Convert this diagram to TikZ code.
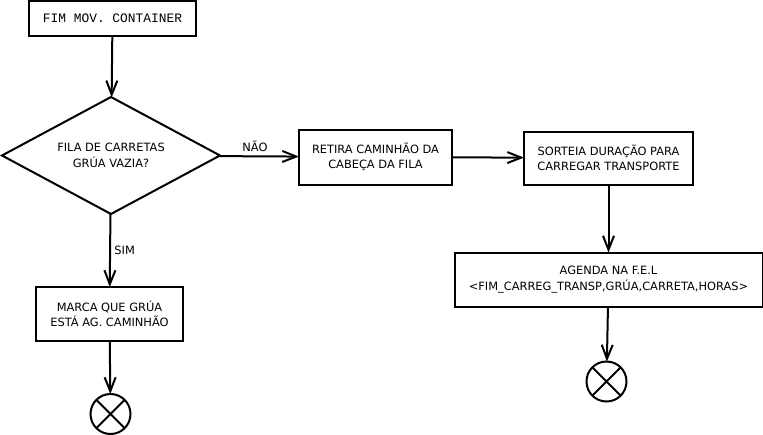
\documentclass[tikz,border=0pt]{standalone}
\usepackage{fontspec}
\setmainfont{DejaVu Sans}
\newfontfamily\monofont{Liberation Mono}
\usetikzlibrary{positioning,shapes.geometric,arrows.meta}

\begin{document}
\begin{tikzpicture}[x=1pt,y=-1pt,->,>={Straight Barb[length=14pt,width=11pt]},auto,line width=2pt,
    box node/.style={rectangle,draw,align=center,inner sep=0pt,outer sep=0pt,font=\fontsize{11.4}{15.5}\selectfont},
    end node/.style={circle,draw,minimum size=40pt,inner sep=0pt,outer sep=0pt}]

            \useasboundingbox (0,0) rectangle (763,434);

            \node[box node, minimum width=167pt, minimum height=35pt, font=\monofont\fontsize{12.9}{15}\selectfont] (1) at (112.5,18.5) {FIM MOV. CONTAINER};
            \node[box node, diamond, aspect=1.86, minimum width=218pt, minimum height=117pt] (2) [below=61pt of 1, xshift=-1.5pt] {FILA DE CARRETAS\\GRÚA VAZIA?};
            \node[box node, minimum width=153pt, minimum height=55pt] (3) [right=79pt of 2, yshift=-1.5pt] {RETIRA CAMINHÃO DA\\CABEÇA DA FILA};
            \node[box node, minimum width=169pt, minimum height=53pt] (4) [right=72pt of 3, yshift=-1pt] {SORTEIA DURAÇÃO PARA\\CARREGAR TRANSPORTE};
            \node[box node, minimum width=308pt, minimum height=54pt] (5) [below=68pt of 4] {AGENDA NA F.E.L\\<FIM\_CARREG\_TRANSP,GRÚA,CARRETA,HORAS>};
            \node[end node] (6) [below=55pt of 5, xshift=-2pt] {};
            \node[box node, minimum width=147pt, minimum height=54pt] (7) [below=73pt of 2, xshift=-1.5pt] {MARCA QUE GRÚA\\ESTÁ AG. CAMINHÃO};
            \node[end node] (8) [below=53pt of 7, xshift=1pt] {};

            \draw (1) to (2);
            \draw (2) to node[font=\fontsize{11.4}{14}\selectfont, pos=0.45] {NÃO} (3);
            \draw (3) to (4);
            \draw (4) to (5);
            \draw (5) to (6);
            \draw (2) to node[font=\fontsize{11.4}{14}\selectfont] {SIM} (7);
            \draw (7) to (8);

            \draw[-] (6.north west) to (6.south east);
            \draw[-] (6.north east) to (6.south west);
            \draw[-] (8.north west) to (8.south east);
            \draw[-] (8.north east) to (8.south west);

        \end{tikzpicture}
\end{document}
